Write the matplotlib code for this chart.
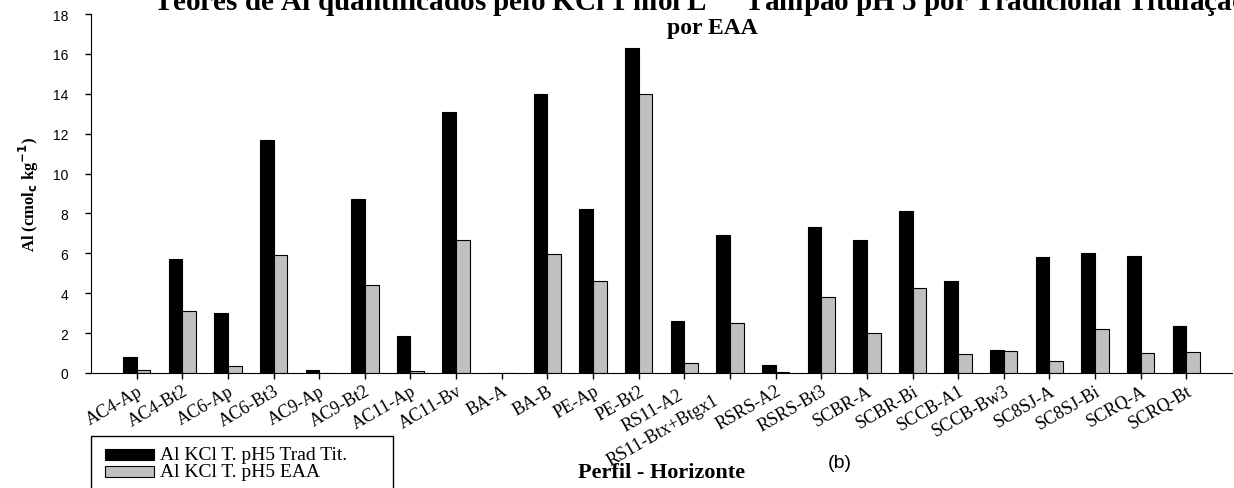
import matplotlib.pyplot as plt
from matplotlib.patches import Rectangle
from matplotlib.transforms import ScaledTranslation
import numpy as np

# Perfis / horizontes
categorias = ['AC4-Ap', 'AC4-Bt2', 'AC6-Ap', 'AC6-Bt3', 'AC9-Ap', 'AC9-Bt2',
              'AC11-Ap', 'AC11-Bv', 'BA-A', 'BA-B', 'PE-Ap', 'PE-Bt2',
              'RS11-A2', 'RS11-Btx+Btgx1', 'RSRS-A2', 'RSRS-Bt3', 'SCBR-A',
              'SCBR-Bi', 'SCCB-A1', 'SCCB-Bw3', 'SC8SJ-A', 'SC8SJ-Bi',
              'SCRQ-A', 'SCRQ-Bt']

# Al (cmolc/kg)
al_trad = [0.8, 5.7, 3.0, 11.7, 0.15, 8.7, 1.85, 13.1, 0.0, 14.0, 8.2, 16.3,
           2.6, 6.9, 0.4, 7.3, 6.65, 8.1, 4.6, 1.15, 5.8, 6.0, 5.85, 2.35]
al_eaa = [0.15, 3.1, 0.35, 5.9, 0.0, 4.4, 0.1, 6.65, 0.0, 5.95, 4.6, 14.0,
          0.5, 2.5, 0.05, 3.8, 2.0, 4.25, 0.95, 1.1, 0.6, 2.2, 1.0, 1.05]

series = ['Al KCl T. pH5 Trad Tit.', 'Al KCl T. pH5 EAA']
cores = ['black', '#c0c0c0']

yticks = np.arange(0, 19, 2)

W, H = 1234, 489
fig = plt.figure(figsize=(W / 100, H / 100), dpi=100)
ax = fig.add_axes([91 / W, (H - 374) / H, (1232 - 91) / W, (374 - 15) / H])

x = np.arange(len(categorias))
larg = 0.3
ax.bar(x - larg / 2, al_trad, larg, color=cores[0], edgecolor='black', lw=0.8)
ax.bar(x + larg / 2, al_eaa, larg, color=cores[1], edgecolor='black', lw=0.8)

ax.set_xlim(-1, len(categorias))
ax.set_ylim(0, 18)
ax.set_yticks(yticks)
ax.set_yticklabels([str(v) for v in yticks], family='Liberation Sans', fontsize=10)
ax.set_xticks(x)
rot = 30
ax.set_xticklabels(categorias, rotation=rot, ha='right', rotation_mode='anchor',
                   family='Liberation Serif', fontsize=13)
ax.tick_params(direction='out', length=4.5, width=1)
ax.tick_params(axis='y', pad=12)
ax.tick_params(axis='x', pad=2)
for s in ['top', 'right']:
    ax.spines[s].set_visible(False)

# os dois rotulos do RS11 aparecem deslocados ao longo do texto
ang = np.deg2rad(rot)
for lab, d in zip(ax.get_xticklabels()[12:14], [6, 14]):
    lab.set_transform(lab.get_transform() + ScaledTranslation(
        -d * np.cos(ang) / 72, -d * np.sin(ang) / 72, fig.dpi_scale_trans))

ax.set_ylabel(r'Al (cmol$_{\mathbf{c}}$ kg$^{\mathbf{-1}}$)', family='Liberation Serif',
              fontweight='bold', fontsize=12, labelpad=8)

# titulo (cortado no topo como no original)
fig.text(700 / W, 1 - 11 / H,
         'Teores de Al quantificados pelo KCl 1 mol L$^{-1}$ Tampão pH 5 por Tradicional Titulação',
         ha='center', va='baseline', family='Liberation Serif', fontweight='bold', fontsize=21)
fig.text(712 / W, 1 - 34 / H, 'por EAA', ha='center', va='baseline',
         family='Liberation Serif', fontweight='bold', fontsize=17)

fig.text(662 / W, 1 - 478 / H, 'Perfil - Horizonte', ha='center', va='baseline',
         family='Liberation Serif', fontweight='bold', fontsize=16)
fig.text(840 / W, 1 - 468 / H, '(b)', ha='center', va='baseline',
         family='Liberation Sans', fontsize=14)

# legenda desenhada a mao
fig.patches.append(Rectangle((91 / W, -0.05), (393 - 91) / W, 1 - 437 / H + 0.05,
                             transform=fig.transFigure, fill=False, ec='black', lw=1))
for i, (nome, c) in enumerate(zip(series, cores)):
    ytop = 450 + i * 17
    fig.patches.append(Rectangle((105 / W, 1 - (ytop + 11) / H), 49 / W, 11 / H,
                                 transform=fig.transFigure, fc=c, ec='black', lw=0.8))
    fig.text(160 / W, 1 - (ytop + 6) / H, nome, va='center', family='Liberation Serif',
             fontsize=14)

fig.savefig('out.png', dpi=100)
